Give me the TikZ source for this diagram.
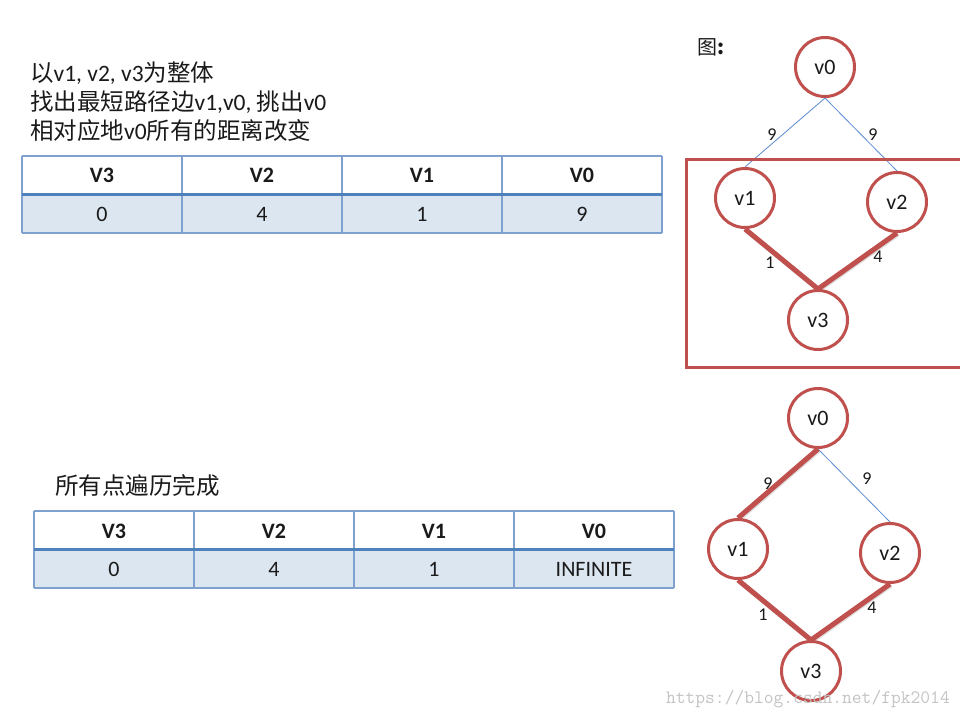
\documentclass[tikz,border=0pt]{standalone}
\usepackage{fontspec}
\setmainfont{Carlito}
\newfontfamily\cjk{Noto Sans CJK SC}
\usetikzlibrary{backgrounds}
\definecolor{nred}{HTML}{C0504D}
\definecolor{tblue}{HTML}{4F81BD}
\definecolor{tlight}{HTML}{7EA1CF}
\definecolor{tfill}{HTML}{DCE6F1}
\definecolor{eblue}{HTML}{5B8BD0}
\definecolor{wm}{HTML}{C4C4C4}
\definecolor{ink}{HTML}{1A1A1A}
\begin{document}
\begin{tikzpicture}[x=1pt,y=-1pt,
  vnode/.style={circle, draw=nred, line width=3pt, minimum size=59pt, inner sep=0pt, fill=white, text=ink, font=\fontsize{22}{22}\selectfont},
  thinedge/.style={draw=eblue, line width=0.8pt},
  thickedge/.style={draw=nred, line width=5pt},
  shadowedge/.style={draw=black!35, line width=5pt, opacity=0.35, transform canvas={shift={(1pt,-1pt)}}},
  elabel/.style={font=\fontsize{18}{18}\selectfont, inner sep=0pt, text=ink},
  hdr/.style={font=\bfseries\fontsize{22}{22}\selectfont, inner sep=0pt, text=ink},
  cell/.style={font=\fontsize{22}{22}\selectfont, inner sep=0pt, text=ink},
  txt/.style={anchor=base west, inner sep=0pt, text=ink, font=\fontsize{23.5}{23.5}\selectfont},
  tline/.style={draw=tlight, line width=1.2pt},
  tmid/.style={draw=tblue, line width=3pt},
  redbox/.style={draw=nred, line width=3pt},
]
\clip (0,0) rectangle (960,720);
\useasboundingbox (0,0) rectangle (960,720);
\begin{pgfonlayer}{background}
  \fill[white] (0,0) rectangle (960,720);
\end{pgfonlayer}

% ---------- texts ----------
\node[txt] (l1) at (30,81) {{\cjk 以}v1, v2, v3{\cjk 为整体}};
\node[txt] (l2) at (30,110) {{\cjk 找出最短路径边}v1,v0, {\cjk 挑出}v0};
\node[txt] (l3) at (30,139) {{\cjk 相对应地}v0{\cjk 所有的距离改变}};
\node[txt] (l4) at (55,494) {\cjk 所有点遍历完成};
\node[txt, font=\cjk\fontsize{20}{20}\selectfont] (fig) at (697,54) {图\textbf{:}};

% ---------- top table ----------
\fill[tfill] (22,194) rectangle (662,233);
\draw[tline] (22,156) -- (662,156);
\draw[tline] (22,233) -- (662,233);
\foreach \xx in {22,182,342,502,662} { \draw[tline] (\xx,156) -- (\xx,233); }
\draw[tmid] (22,194) -- (662,194);
\foreach \lab/\val [count=\i] in {V3/0, V2/4, V1/1, V0/9} {
  \node[hdr] (th\i) at ({22+160*(\i-1)+80},175) {\lab};
  \node[cell] (tv\i) at ({22+160*(\i-1)+80},214) {\val};
}

% ---------- bottom table ----------
\fill[tfill] (34,549) rectangle (674,588);
\draw[tline] (34,511) -- (674,511);
\draw[tline] (34,588) -- (674,588);
\foreach \xx in {34,194,354,514,674} { \draw[tline] (\xx,511) -- (\xx,588); }
\draw[tmid] (34,549) -- (674,549);
\foreach \lab/\val [count=\i] in {V3/0, V2/4, V1/1, V0/INFINITE} {
  \node[hdr] (bh\i) at ({34+160*(\i-1)+80},531) {\lab};
  \node[cell] (bv\i) at ({34+160*(\i-1)+80},569) {\val};
}

% ---------- top graph ----------
\draw[redbox] (965,159) -- (686,159) -- (686,367) -- (965,367);
\node[vnode] (a0) at (825,67) {v0};
\node[vnode] (a1) at (745,198) {v1};
\node[vnode] (a2) at (897,202) {v2};
\node[vnode] (a3) at (818,320) {v3};
\begin{pgfonlayer}{background}
  \draw[thinedge] (a0.south) -- (a1.north);
  \draw[thinedge] (a0.south) -- (a2.north);
  \draw[shadowedge] (a1.south) -- (a3.north) -- (a2.south);
  \draw[thickedge] (a1.south) -- (a3.north) -- (a2.south);
\end{pgfonlayer}
\node[elabel] (a9l) at (772,135) {9};
\node[elabel] (a9r) at (873,135) {9};
\node[elabel] (a1l) at (770,263) {1};
\node[elabel] (a4r) at (878,257) {4};

% ---------- bottom graph ----------
\node[vnode] (b0) at (818,418) {v0};
\node[vnode] (b1) at (738,549) {v1};
\node[vnode] (b2) at (890,553) {v2};
\node[vnode] (b3) at (811,671) {v3};
\begin{pgfonlayer}{background}
  \draw[thinedge] (b0.south) -- (b2.north);
  \draw[shadowedge] (b0.south) -- (b1.north);
  \draw[shadowedge] (b1.south) -- (b3.north) -- (b2.south);
  \draw[thickedge] (b0.south) -- (b1.north);
  \draw[thickedge] (b1.south) -- (b3.north) -- (b2.south);
\end{pgfonlayer}
\node[elabel] (b9l) at (768,484) {9};
\node[elabel] (b9r) at (867,479) {9};
\node[elabel] (b1l) at (763,615) {1};
\node[elabel] (b4r) at (872,608) {4};

% ---------- watermark ----------
\node[anchor=base east, inner sep=0pt, text=wm, font=\ttfamily\fontsize{19}{19}\selectfont] (wmark) at (950,703) {https://blog.csdn.net/fpk2014};
\end{tikzpicture}
\end{document}
